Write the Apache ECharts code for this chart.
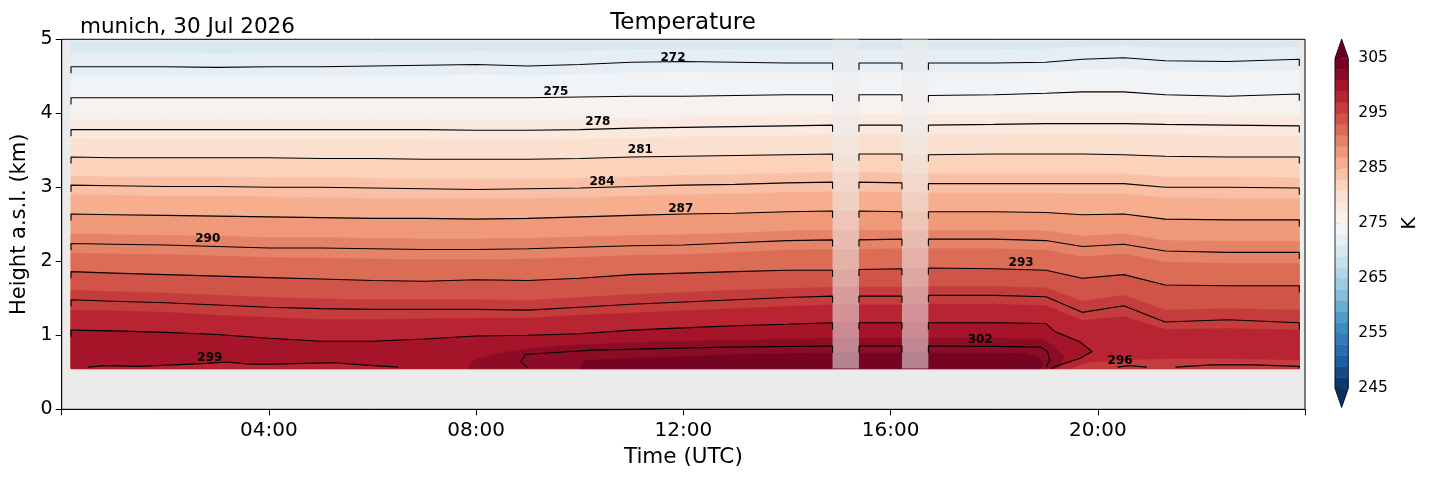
<!DOCTYPE html>
<html><head><meta charset="utf-8">
<script src="https://cdn.jsdelivr.net/npm/echarts@6/dist/echarts.min.js"></script>
<style>html,body{margin:0;padding:0;background:#fff}#c{width:1429px;height:478px}</style>
</head><body><div id="c"></div>
<script>
// ---------- data ----------
const hours = [0.18, 1, 2, 3, 4, 5, 6, 7, 8, 9, 10, 11, 12, 13, 14, 14.88, 15.39, 16.22, 16.73, 18, 19, 19.7, 20.5, 21.3, 22.5, 23.89];
const gaps = [[14.88, 15.39], [16.22, 16.73]];
const dataStart = 0.18, dataEnd = 23.89, dataBottom = 0.55, dataTop = 4.97;

// isotherm heights (km) at each of `hours`
const iso271 = [4.82,4.82,4.82,4.81,4.82,4.82,4.82,4.83,4.84,4.83,4.84,4.86,4.87,4.86,4.86,4.86,4.86,4.86,4.86,4.86,4.87,4.90,4.91,4.88,4.87,4.89];
const iso272 = [4.63,4.63,4.63,4.62,4.63,4.63,4.64,4.65,4.66,4.64,4.66,4.69,4.70,4.69,4.68,4.68,4.68,4.68,4.68,4.68,4.69,4.73,4.75,4.71,4.70,4.73];
const iso273 = [4.50,4.50,4.50,4.49,4.50,4.50,4.50,4.51,4.52,4.51,4.52,4.55,4.56,4.55,4.55,4.55,4.55,4.55,4.55,4.55,4.56,4.59,4.60,4.57,4.56,4.59];
const iso275 = [4.21,4.21,4.21,4.21,4.21,4.21,4.21,4.21,4.21,4.21,4.22,4.23,4.23,4.24,4.25,4.25,4.25,4.25,4.24,4.25,4.27,4.29,4.29,4.25,4.23,4.26];
const iso277 = [3.92,3.92,3.92,3.92,3.92,3.92,3.92,3.92,3.91,3.91,3.92,3.94,3.95,3.96,3.97,3.98,3.98,3.98,3.98,3.99,4.00,4.00,4.00,3.99,3.97,3.97];
const iso278 = [3.78,3.78,3.78,3.78,3.78,3.78,3.78,3.78,3.77,3.77,3.78,3.80,3.81,3.82,3.83,3.84,3.84,3.84,3.84,3.85,3.86,3.86,3.86,3.85,3.84,3.83];
const iso279 = [3.66,3.65,3.65,3.65,3.65,3.65,3.65,3.65,3.64,3.64,3.65,3.67,3.68,3.69,3.70,3.71,3.71,3.71,3.71,3.72,3.72,3.72,3.72,3.71,3.70,3.69];
const iso281 = [3.41,3.40,3.40,3.40,3.40,3.39,3.39,3.38,3.38,3.38,3.39,3.41,3.42,3.43,3.44,3.45,3.45,3.45,3.44,3.45,3.45,3.45,3.44,3.42,3.41,3.41];
const iso283 = [3.15,3.14,3.14,3.14,3.13,3.13,3.12,3.11,3.11,3.11,3.12,3.14,3.16,3.17,3.19,3.20,3.20,3.19,3.18,3.18,3.18,3.18,3.18,3.14,3.14,3.13];
const iso284 = [3.03,3.02,3.01,3.01,3.00,3.00,2.99,2.98,2.97,2.98,2.99,3.01,3.03,3.04,3.06,3.07,3.07,3.06,3.05,3.05,3.05,3.05,3.05,3.00,3.00,2.99];
const iso285 = [2.90,2.89,2.88,2.88,2.87,2.86,2.85,2.85,2.84,2.85,2.86,2.88,2.90,2.91,2.93,2.94,2.94,2.93,2.92,2.92,2.92,2.91,2.91,2.86,2.85,2.85];
const iso287 = [2.64,2.63,2.62,2.61,2.60,2.59,2.58,2.58,2.57,2.58,2.60,2.62,2.64,2.65,2.67,2.68,2.68,2.67,2.67,2.67,2.66,2.63,2.64,2.57,2.56,2.56];
const iso289 = [2.37,2.36,2.35,2.34,2.32,2.32,2.31,2.30,2.30,2.31,2.33,2.35,2.36,2.38,2.41,2.42,2.42,2.42,2.42,2.42,2.41,2.34,2.37,2.28,2.27,2.27];
const iso290 = [2.24,2.23,2.22,2.20,2.18,2.18,2.17,2.16,2.16,2.17,2.19,2.21,2.22,2.25,2.28,2.29,2.29,2.30,2.30,2.30,2.28,2.20,2.23,2.14,2.12,2.12];
const iso291 = [2.11,2.10,2.09,2.07,2.05,2.04,2.03,2.02,2.02,2.03,2.05,2.08,2.09,2.12,2.15,2.16,2.16,2.17,2.17,2.17,2.15,2.06,2.10,1.99,1.97,1.97];
const iso293 = [1.86,1.84,1.82,1.80,1.78,1.76,1.74,1.73,1.75,1.74,1.77,1.82,1.84,1.86,1.88,1.88,1.89,1.90,1.91,1.90,1.88,1.77,1.82,1.68,1.67,1.67];
const iso295 = [1.61,1.59,1.57,1.54,1.51,1.49,1.48,1.48,1.48,1.47,1.51,1.55,1.58,1.61,1.63,1.65,1.65,1.65,1.66,1.66,1.64,1.46,1.54,1.34,1.36,1.34];
const iso296 = [1.48,1.46,1.44,1.41,1.38,1.36,1.35,1.35,1.35,1.34,1.38,1.42,1.45,1.48,1.51,1.53,1.53,1.53,1.54,1.54,1.52,1.31,1.40,1.18,1.21,1.17];
const iso297 = [1.34,1.33,1.31,1.27,1.24,1.21,1.21,1.22,1.23,1.23,1.27,1.30,1.33,1.36,1.39,1.41,1.41,1.41,1.42,1.42,1.40,1.20,1.25,1.08,1.09,1.07];

// partial isotherms as [hour, height] pairs
const iso299 = [[0.18,1.07],[1,1.06],[2,1.04],[3,1.01],[4,0.96],[5,0.92],[6,0.92],[7,0.95],[8,0.99],[9,1.00],[10,1.02],[11,1.07],[12,1.10],[13,1.13],[14,1.15],[14.88,1.17],[15.39,1.17],[16.22,1.17],[16.73,1.17],[18,1.17],[19,1.16],[19.17,1.05],[19.45,0.97],[19.66,0.91],[19.89,0.78],[19.66,0.69],[19.18,0.58],[19.1,0.55]];
const iso301 = [[7.85,0.55],[7.95,0.66],[8.4,0.75],[8.9,0.81],[9.5,0.85],[10,0.87],[11,0.90],[12,0.92],[13,0.93],[14,0.95],[14.88,0.96],[15.39,0.96],[16.22,0.96],[16.73,0.96],[18,0.96],[18.9,0.95],[19.1,0.88],[19.35,0.72],[19.3,0.60],[19.2,0.55]];
const iso302 = [[9.0,0.56],[8.86,0.64],[8.95,0.74],[9.6,0.77],[10.26,0.80],[11.5,0.82],[12.84,0.84],[14.88,0.855],[15.39,0.855],[16.22,0.855],[16.73,0.855],[18,0.85],[18.9,0.84],[19.03,0.78],[19.07,0.66],[19.0,0.57]];
const iso303 = [[10.0,0.55],[10.1,0.66],[11,0.69],[12,0.71],[13,0.74],[14,0.75],[14.88,0.76],[15.39,0.76],[16.22,0.76],[16.73,0.76],[18,0.76],[18.6,0.75],[18.85,0.70],[18.95,0.62],[18.9,0.55]];
const low299 = [[0.5,0.57],[0.85,0.59],[1.5,0.58],[2.15,0.60],[2.8,0.62],[3.2,0.64],[3.6,0.61],[4.1,0.61],[4.7,0.62],[5.26,0.63],[5.8,0.60],[6.5,0.57]];
const low297 = [[19.5,0.55],[19.8,0.63],[20.5,0.66],[21.3,0.68],[22.5,0.68],[23.89,0.66]];
const low296 = [[20.38,0.57],[20.6,0.59],[20.95,0.57],null,[21.5,0.57],[22.2,0.60],[23.0,0.60],[23.89,0.58]];

// contour label positions and texts
const labelHours   = [11.8, 9.54, 10.35, 11.17, 10.43, 11.95, 2.82, 18.52, 20.43, 2.86, 17.73];
const labelHeights = [4.75, 4.29, 3.88, 3.50, 3.08, 2.71, 2.30, 1.98, 0.66, 0.70, 0.94];
const labelTexts   = ['272','275','278','281','284','287','290','293','296','299','302'];

// colour levels (K) and colour bar ticks
const fillLevels = [245,247,249,251,253,255,257,259,261,263,265,267,269,271,273,275,277,279,281,283,285,287,289,291,293,295,297,299,301,303,305];
const cbarMin = 245, cbarMax = 305, cbarStep = 10;
const xTickHours = [0, 4, 8, 12, 16, 20, 24];

// ---------- colormap (RdBu_r) ----------
const rdbuStops = ['#67001f','#b2182b','#d6604d','#f4a582','#fddbc7','#f7f7f7','#d1e5f0','#92c5de','#4393c3','#2166ac','#053061'];
function hex2rgb(h){return [1,3,5].map(i=>parseInt(h.substr(i,2),16));}
function cmap(p){
  p=Math.min(1,Math.max(0,p)); const q=(1-p)*10; const i=Math.min(9,Math.floor(q)); const f=q-i;
  const a=hex2rgb(rdbuStops[i]), b=hex2rgb(rdbuStops[i+1]);
  return 'rgb('+a.map((v,k)=>Math.round(v+(b[k]-v)*f)).join(',')+')';
}
function bandColor(lo){ return cmap((lo+1-cbarMin)/(cbarMax-cbarMin)); }
const toPts = arr => hours.map((t,i)=>[t,arr[i]]);

// ---------- fills (painted cold -> warm, then cool pockets) ----------
const paint = [
  {pts:[[dataStart,dataTop],[dataEnd,dataTop]], lo:269},
  {pts:toPts(iso271), lo:271},{pts:toPts(iso273), lo:273},{pts:toPts(iso275), lo:275},
  {pts:toPts(iso277), lo:277},{pts:toPts(iso279), lo:279},{pts:toPts(iso281), lo:281},
  {pts:toPts(iso283), lo:283},{pts:toPts(iso285), lo:285},{pts:toPts(iso287), lo:287},
  {pts:toPts(iso289), lo:289},{pts:toPts(iso291), lo:291},{pts:toPts(iso293), lo:293},
  {pts:toPts(iso295), lo:295},{pts:toPts(iso297), lo:297},{pts:iso299, lo:299},
  {pts:iso301, lo:301},{pts:iso303, lo:303},
  {pts:low297, lo:295},{pts:low299, lo:297}
];

// ---------- contour lines ----------
const edges = [dataStart, dataEnd].concat(...gaps);
const hook = 0.09;
function isEdge(t){return edges.some(e=>Math.abs(e-t)<1e-6);}
function inGap(a,b){const m=(a+b)/2; return gaps.some(g=>m>g[0]&&m<g[1]);}
function lineData(pts){
  const segs=[]; let cur=[];
  pts.forEach(p=>{
    if(p===null){ if(cur.length) segs.push(cur); cur=[]; return; }
    if(cur.length && inGap(cur[cur.length-1][0],p[0])){ segs.push(cur); cur=[]; }
    cur.push(p);
  });
  if(cur.length) segs.push(cur);
  const out=[];
  segs.forEach((s,k)=>{
    const seg=s.slice();
    if(isEdge(seg[0][0])) seg.unshift([seg[0][0], Math.max(dataBottom, seg[0][1]-hook)]);
    const l=seg[seg.length-1];
    if(isEdge(l[0])) seg.push([l[0], Math.max(dataBottom, l[1]-hook)]);
    if(k>0) out.push([seg[0][0], null]);
    seg.forEach(p=>out.push(p));
  });
  return out;
}
const contourLines = [toPts(iso272),toPts(iso275),toPts(iso278),toPts(iso281),toPts(iso284),toPts(iso287),
  toPts(iso290),toPts(iso293),toPts(iso296),iso299,low299,iso302,low296];

const FONT='DejaVu Sans';
const series = [];
series.push({
  type:'custom', xAxisIndex:0, yAxisIndex:0, z:1, silent:true, animation:false,
  data: paint.map(()=>[0,0]),
  renderItem:(params, api)=>{
    const f=paint[params.dataIndex];
    const ring=f.pts.concat([[f.pts[f.pts.length-1][0],dataBottom],[f.pts[0][0],dataBottom]]);
    const c=bandColor(f.lo);
    return {type:'polygon', z2:params.dataIndex, shape:{points:ring.map(p=>api.coord(p))},
      style:{fill:c, stroke:c, lineWidth:0.6}};
  }
});
series.push({
  type:'custom', xAxisIndex:0, yAxisIndex:0, z:2, silent:true, animation:false,
  data: gaps.map(g=>[g[0],g[1]]),
  renderItem:(params, api)=>{
    const a=api.coord([api.value(0),5]), b=api.coord([api.value(1),dataBottom]);
    return {type:'rect', shape:{x:a[0],y:a[1],width:b[0]-a[0],height:b[1]-a[1]},
      style:{fill:'rgba(235,235,235,0.55)'}};
  }
});
contourLines.forEach(pts=>series.push({
  type:'line', xAxisIndex:0, yAxisIndex:0, z:3, silent:true, animation:false,
  symbol:'none', showSymbol:false, connectNulls:false,
  lineStyle:{color:'#000', width:1.1}, data: lineData(pts)
}));
series.push({
  type:'scatter', xAxisIndex:0, yAxisIndex:0, z:4, silent:true, animation:false,
  symbol:'circle', symbolSize:1, itemStyle:{color:'rgba(0,0,0,0)'},
  data: labelHours.map((t,i)=>[t,labelHeights[i]]),
  label:{show:true, position:'inside', formatter:p=>labelTexts[p.dataIndex],
    fontFamily:FONT, fontWeight:'bold', fontSize:12, color:'#000', opacity:1}
});
// colour bar
series.push({
  type:'custom', xAxisIndex:1, yAxisIndex:1, z:1, silent:true, animation:false, clip:false,
  data: fillLevels.slice(0,-1).map(v=>[0,v]),
  renderItem:(params, api)=>{
    const lo=api.value(1), hi=lo+(fillLevels[1]-fillLevels[0]);
    const a=api.coord([0,hi]), b=api.coord([1,lo]);
    const c=bandColor(lo);
    return {type:'rect', shape:{x:a[0],y:a[1],width:b[0]-a[0],height:b[1]-a[1]+0.3}, style:{fill:c, stroke:c, lineWidth:0.3}};
  }
});
series.push({
  type:'custom', xAxisIndex:1, yAxisIndex:1, z:2, silent:true, animation:false, clip:false,
  data:[[0,0]],
  renderItem:(params, api)=>{
    const ext=3.5;
    const top=[[0,cbarMax],[0.5,cbarMax+ext],[1,cbarMax]].map(p=>api.coord(p));
    const bot=[[0,cbarMin],[0.5,cbarMin-ext],[1,cbarMin]].map(p=>api.coord(p));
    const outline=[[0,cbarMin],[0.5,cbarMin-ext],[1,cbarMin],[1,cbarMax],[0.5,cbarMax+ext],[0,cbarMax]].map(p=>api.coord(p));
    return {type:'group', children:[
      {type:'polygon', shape:{points:top}, style:{fill:cmap(1)}},
      {type:'polygon', shape:{points:bot}, style:{fill:cmap(0)}},
      {type:'polygon', shape:{points:outline}, style:{fill:'none', stroke:'#000', lineWidth:0.8}}
    ]};
  }
});

const pad=h=>(h<10?'0':'')+h+':00';
const option = {
  animation:false,
  backgroundColor:'#fff',
  textStyle:{fontFamily:FONT},
  grid:[
    {left:61.7, top:39.3, width:1243.3, height:370, show:true, backgroundColor:'#ebebeb', borderColor:'#000', borderWidth:1},
    {left:1335, top:58.3, width:13.3, height:330}
  ],
  xAxis:[
    {type:'value', gridIndex:0, min:xTickHours[0], max:xTickHours[xTickHours.length-1], interval:4,
     axisLine:{show:true, lineStyle:{color:'#000', width:1}},
     axisTick:{show:true, length:6, lineStyle:{color:'#000', width:1}},
     axisLabel:{color:'#000', fontSize:20, margin:11, fontFamily:FONT,
       formatter:v=>(v===xTickHours[0]||v===xTickHours[xTickHours.length-1])?'':pad(v)},
     splitLine:{show:false},
     name:'Time (UTC)', nameLocation:'middle', nameGap:37,
     nameTextStyle:{color:'#000', fontSize:21.5, fontFamily:FONT}},
    {type:'value', gridIndex:1, min:0, max:1, show:false}
  ],
  yAxis:[
    {type:'value', gridIndex:0, min:0, max:5, interval:1,
     axisLine:{show:true, lineStyle:{color:'#000', width:1}},
     axisTick:{show:true, length:6, lineStyle:{color:'#000', width:1}},
     axisLabel:{color:'#000', fontSize:19, margin:9, fontFamily:FONT},
     splitLine:{show:false},
     name:'Height a.s.l. (km)', nameLocation:'middle', nameGap:30,
     nameTextStyle:{color:'#000', fontSize:21, fontFamily:FONT}},
    {type:'value', gridIndex:1, min:cbarMin, max:cbarMax, interval:cbarStep, position:'right',
     axisLine:{show:false},
     axisTick:{show:true, length:6, lineStyle:{color:'#000', width:1}},
     axisLabel:{color:'#000', fontSize:15.5, margin:10, fontFamily:FONT},
     splitLine:{show:false},
     name:'K', nameLocation:'middle', nameGap:52, nameRotate:90,
     nameTextStyle:{color:'#000', fontSize:19, fontFamily:FONT}}
  ],
  graphic:[
    {type:'text', x:80, y:27.5, silent:true, style:{text:'munich, 30 Jul 2026', fontSize:21.5, fontFamily:FONT, fill:'#000', align:'left', verticalAlign:'middle'}},
    {type:'text', x:683, y:23, silent:true, style:{text:'Temperature', fontSize:23, fontFamily:FONT, fill:'#000', align:'center', verticalAlign:'middle'}}
  ],
  series
};
const chart = echarts.init(document.getElementById('c'), null, {renderer:'canvas'});
chart.setOption(option);
</script>
</body></html>
